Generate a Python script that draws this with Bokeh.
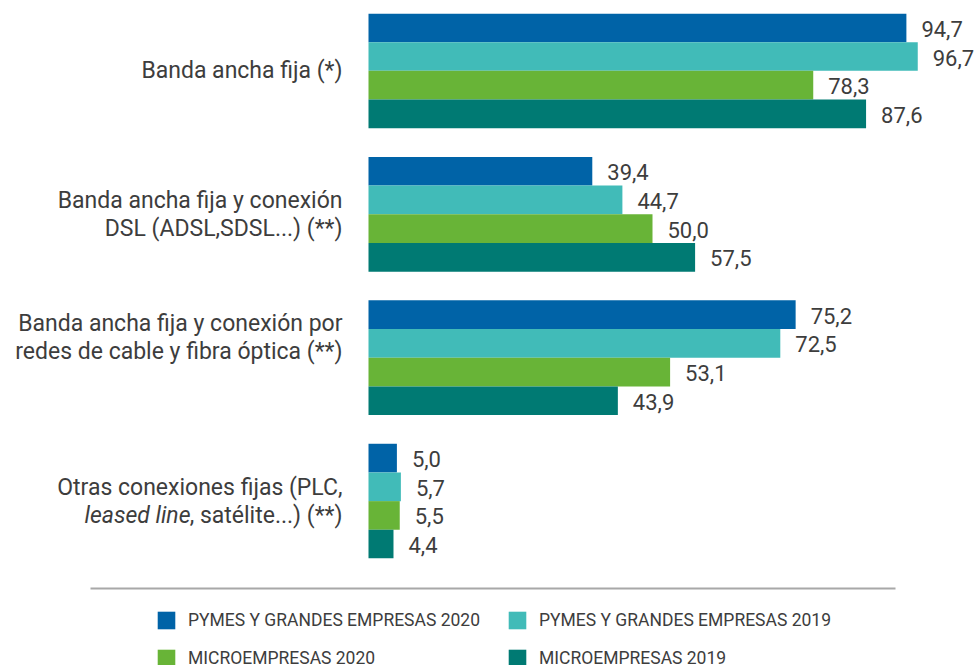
from bokeh.plotting import figure
from bokeh.models import FactorRange, Range1d, Legend, LegendItem, ColumnDataSource
from bokeh.layouts import column
from bokeh.embed import file_html
from bokeh.resources import INLINE
from bokeh.core.properties import value

# ---------------- data ----------------
categories = [
    "Banda ancha fija (*)",
    "Banda ancha fija y conexión DSL (ADSL,SDSL...) (**)",
    "Banda ancha fija y conexión por redes de cable y fibra óptica (**)",
    "Otras conexiones fijas (PLC, leased line, satélite...) (**)",
]
label_line1 = [
    "Banda ancha fija (*)",
    "Banda ancha fija y conexión",
    "Banda ancha fija y conexión por",
    "Otras conexiones fijas (PLC,",
]
label_line2 = [
    "",
    "DSL (ADSL,SDSL...) (**)",
    "redes de cable y fibra óptica (**)",
    ", satélite...) (**)",
]
label_italic = ["", "", "", "leased line"]

series = [
    "PYMES Y GRANDES EMPRESAS 2020",
    "PYMES Y GRANDES EMPRESAS 2019",
    "MICROEMPRESAS 2020",
    "MICROEMPRESAS 2019",
]
pymes_2020 = [94.7, 39.4, 75.2, 5.0]
pymes_2019 = [96.7, 44.7, 72.5, 5.7]
micro_2020 = [78.3, 50.0, 53.1, 5.5]
micro_2019 = [87.6, 57.5, 43.9, 4.4]

colors = ["#0063a7", "#41bbb8", "#68b437", "#007a73"]

# ---------------- styles ----------------
TXT = "#3d3d3d"
FONT = "Roboto"
W, H_BARS, H_LEG = 976, 568, 97
PX_PER_UNIT = 5.68
ZERO_PX = 368
label_group_offset = [0, 0, -20, 0]
LINE_GAP = 14
ITALIC_SHIFT = 152

# ---------------- bar figure ----------------
all_values = [pymes_2020, pymes_2019, micro_2020, micro_2019]
factors = [(c, s) for c in reversed(categories) for s in reversed(series)]

keys, vals, cols, labs = [], [], [], []
for si, s in enumerate(series):
    for ci, c in enumerate(categories):
        v = all_values[si][ci]
        keys.append((c, s))
        vals.append(v)
        cols.append(colors[si])
        labs.append(f"{v:.1f}".replace(".", ","))
src = ColumnDataSource(dict(key=keys, value=vals, color=cols, label=labs))

x_start = -ZERO_PX / PX_PER_UNIT
x_end = (W - ZERO_PX) / PX_PER_UNIT

p = figure(width=W, height=H_BARS, output_backend="svg", toolbar_location=None,
           x_range=Range1d(x_start, x_end),
           y_range=FactorRange(factors=factors, group_padding=1.0, factor_padding=0.0, range_padding=0),
           x_axis_location=None, y_axis_location=None,
           min_border_left=0, min_border_right=0, min_border_top=13, min_border_bottom=10)
p.outline_line_color = None
p.grid.visible = False

p.hbar(y="key", left=0, right="value", height=1.0, fill_color="color", line_color=None, source=src)
p.text(x="value", y="key", text="label", source=src, x_offset=15, y_offset=1,
       text_align="left", text_baseline="middle", text_color=TXT,
       text_font=value(FONT), text_font_size="22px")

# category labels
ly, lt, loff = [], [], []
iy, it, ioff = [], [], []
for ci, c in enumerate(categories):
    g = label_group_offset[ci]
    if label_line2[ci]:
        ly += [c, c]
        lt += [label_line1[ci], label_line2[ci]]
        loff += [g - LINE_GAP, g + LINE_GAP]
    else:
        ly.append(c)
        lt.append(label_line1[ci])
        loff.append(g)
    if label_italic[ci]:
        iy.append(c)
        it.append(label_italic[ci])
        ioff.append(g + LINE_GAP)

lab_src = ColumnDataSource(dict(y=ly, text=lt, yo=loff))
ital_src = ColumnDataSource(dict(y=iy, text=it, yo=ioff))
p.text(x=0, y="y", text="text", y_offset="yo", x_offset=-26, source=lab_src,
       text_align="right", text_baseline="middle", text_color=TXT,
       text_font=value(FONT), text_font_size="23px")
p.text(x=0, y="y", text="text", y_offset="yo", x_offset=-26 - ITALIC_SHIFT, source=ital_src,
       text_align="right", text_baseline="middle", text_color=TXT,
       text_font=value(FONT), text_font_size="23px", text_font_style="italic")

# ---------------- legend figure ----------------
lg = figure(width=W, height=H_LEG, output_backend="svg", toolbar_location=None,
            x_range=Range1d(0, W), y_range=Range1d(0, H_LEG),
            x_axis_location=None, y_axis_location=None,
            min_border_left=0, min_border_right=0, min_border_top=0, min_border_bottom=0)
lg.outline_line_color = None
lg.grid.visible = False

# separator rule above the legend
lg.segment(x0=[90], x1=[895], y0=[H_LEG - 20], y1=[H_LEG - 20], line_color="#a8a8a8", line_width=2)

items = []
for si, s in enumerate(series):
    r = lg.hbar(y=[0], left=[0], right=[0], height=1, fill_color=colors[si], line_color=None)
    items.append(LegendItem(label=s, renderers=[r]))

legend = Legend(items=items, location=(155, -4), orientation="horizontal", ncols=2,
                glyph_width=22, glyph_height=22, label_standoff=11, spacing=16,
                padding=0, margin=0, border_line_color=None, background_fill_alpha=0,
                label_text_font=FONT, label_text_font_size="17.5px", label_text_color=TXT,
                label_width=302, label_height=22)
lg.add_layout(legend, "center")

layout = column(p, lg, spacing=0)
open("out.html", "w").write(file_html(layout, INLINE))
